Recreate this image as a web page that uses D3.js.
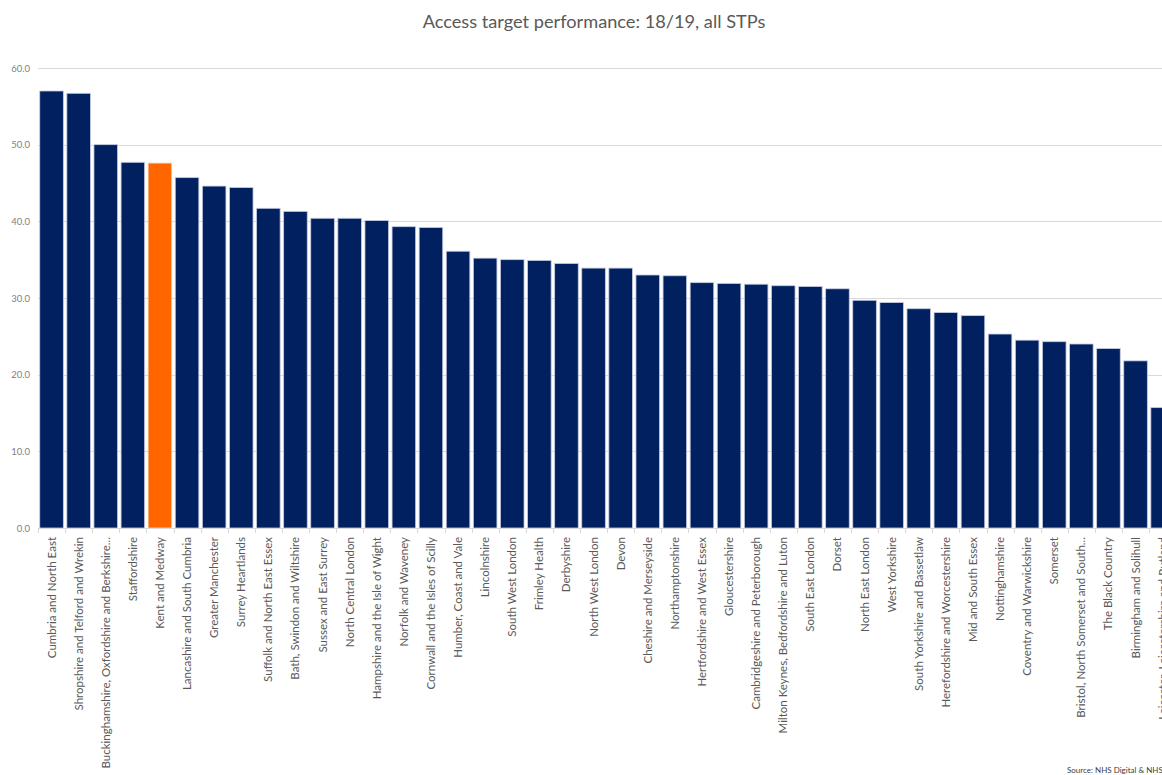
<!DOCTYPE html>
<html>
<head>
<meta charset="utf-8">
<script src="https://cdn.jsdelivr.net/npm/d3@7"></script>
<style>
  html, body { margin: 0; padding: 0; background: #fff; overflow: hidden; }
  svg { display: block; }
</style>
</head>
<body>
<svg id="chart" width="1162" height="775"></svg>
<script>
const categories = [
  "Cumbria and North East",
  "Shropshire and Telford and Wrekin",
  "Buckinghamshire, Oxfordshire and Berkshire...",
  "Staffordshire",
  "Kent and Medway",
  "Lancashire and South Cumbria",
  "Greater Manchester",
  "Surrey Heartlands",
  "Suffolk and North East Essex",
  "Bath, Swindon and Wiltshire",
  "Sussex and East Surrey",
  "North Central London",
  "Hampshire and the Isle of Wight",
  "Norfolk and Waveney",
  "Cornwall and the Isles of Scilly",
  "Humber, Coast and Vale",
  "Lincolnshire",
  "South West London",
  "Frimley Health",
  "Derbyshire",
  "North West London",
  "Devon",
  "Cheshire and Merseyside",
  "Northamptonshire",
  "Hertfordshire and West Essex",
  "Gloucestershire",
  "Cambridgeshire and Peterborough",
  "Milton Keynes, Bedfordshire and Luton",
  "South East London",
  "Dorset",
  "North East London",
  "West Yorkshire",
  "South Yorkshire and Bassetlaw",
  "Herefordshire and Worcestershire",
  "Mid and South Essex",
  "Nottinghamshire",
  "Coventry and Warwickshire",
  "Somerset",
  "Bristol, North Somerset and South...",
  "The Black Country",
  "Birmingham and Solihull",
  "Leicester, Leicestershire and Rutland"
];
const values = [
  57.0, 56.7, 50.0, 47.7, 47.6, 45.7, 44.6, 44.4, 41.7, 41.3,
  40.4, 40.4, 40.1, 39.3, 39.2, 36.1, 35.2, 35.0, 34.9, 34.5,
  33.9, 33.9, 33.0, 32.9, 32.0, 31.9, 31.8, 31.6, 31.5, 31.2,
  29.7, 29.4, 28.6, 28.1, 27.7, 25.3, 24.5, 24.3, 24.0, 23.4,
  21.8, 15.7
];
const highlight = ["Kent and Medway"];
const yTicks = [0, 10, 20, 30, 40, 50, 60];
const titleText = "Access target performance: 18/19, all STPs";
const sourceText = "Source: NHS Digital & NHS England";

const data = categories.map((c, i) => ({ name: c, value: values[i] }));

const svg = d3.select("#chart");
const plotLeft = 38, plotBottom = 528, plotTop = 68;
const step = 27.1;

const x = d3.scaleBand()
  .domain(categories)
  .range([plotLeft, plotLeft + categories.length * step])
  .paddingInner(0.13)
  .paddingOuter(0.065);

const y = d3.scaleLinear().domain([0, 60]).range([plotBottom, plotTop]);

const font = "Lato, 'Open Sans', sans-serif";

// Title
svg.append("text")
  .attr("x", 594).attr("y", 28)
  .attr("text-anchor", "middle")
  .attr("font-family", font)
  .attr("font-size", 18.2)
  .attr("fill", "#595959")
  .text(titleText);

// Gridlines
svg.append("g")
  .selectAll("line")
  .data(yTicks.filter(t => t > 0))
  .join("line")
  .attr("x1", plotLeft).attr("x2", 1162)
  .attr("y1", d => Math.round(y(d)) + 0.5)
  .attr("y2", d => Math.round(y(d)) + 0.5)
  .attr("stroke", "#d9d9d9")
  .attr("stroke-width", 1);

// Y axis labels
const yAxis = d3.axisLeft(y).tickValues(yTicks).tickFormat(d3.format(".1f")).tickSize(0).tickPadding(8);
const gy = svg.append("g").attr("transform", `translate(${plotLeft},0)`).call(yAxis);
gy.select(".domain").remove();
gy.selectAll("text")
  .attr("font-family", font)
  .attr("font-size", 9.5)
  .attr("fill", "#7f7f7f");

// Bars
svg.append("g")
  .selectAll("rect")
  .data(data)
  .join("rect")
  .attr("x", d => x(d.name))
  .attr("y", d => y(d.value))
  .attr("width", x.bandwidth())
  .attr("height", d => y(0) - y(d.value))
  .attr("fill", d => highlight.includes(d.name) ? "#ff6600" : "#002060")
  .attr("stroke", d => highlight.includes(d.name) ? "#ffd0b0" : "#c5cbe0")
  .attr("stroke-width", 0.8);

// X axis baseline
svg.append("line")
  .attr("x1", plotLeft).attr("x2", 1162)
  .attr("y1", plotBottom + 0.5).attr("y2", plotBottom + 0.5)
  .attr("stroke", "#d9d9d9");

// Boundary ticks
const boundaries = categories.map(c => x(c) - x.paddingInner() * x.step() / 2);
svg.append("g")
  .selectAll("line")
  .data(boundaries)
  .join("line")
  .attr("x1", d => Math.round(d) + 0.5).attr("x2", d => Math.round(d) + 0.5)
  .attr("y1", plotBottom).attr("y2", plotBottom + 5)
  .attr("stroke", "#d9d9d9");

// X labels
const xAxis = d3.axisBottom(x).tickSize(0).tickPadding(0);
const gx = svg.append("g").attr("transform", `translate(0,${plotBottom})`).call(xAxis);
gx.select(".domain").remove();
gx.selectAll("text")
  .attr("font-family", font)
  .attr("font-size", 11.5)
  .attr("fill", "#595959")
  .attr("text-anchor", "end")
  .attr("dy", "0.35em")
  .attr("transform", "translate(0,9) rotate(-90)")
  .attr("x", 0).attr("y", 0);

// Source
svg.append("text")
  .attr("x", 1067).attr("y", 773)
  .attr("font-family", font)
  .attr("font-size", 8)
  .attr("fill", "#404040")
  .text(sourceText);
</script>
</body>
</html>
